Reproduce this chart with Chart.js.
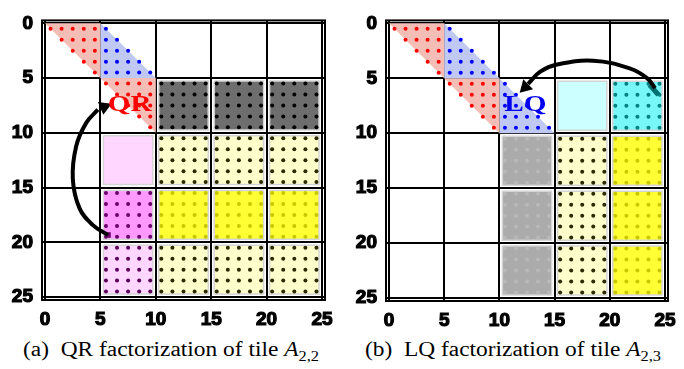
<!DOCTYPE html>
<html>
<head>
<meta charset="utf-8">
<script src="https://cdn.jsdelivr.net/npm/chart.js@4/dist/chart.umd.min.js"></script>
<style>
  body { margin: 0; background: #fff; width: 684px; height: 369px; overflow: hidden; position: relative; }
  canvas { position: absolute; top: 0; }
  .caption {
    position: absolute; top: 339px; width: 342px; text-align: center;
    font-family: "Liberation Serif", "DejaVu Serif", serif; font-size: 20px; line-height: 20px;
    transform: scaleX(1.17); white-space: nowrap;
  }
  .caption sub { font-size: 14px; line-height: 0; }
</style>
</head>
<body>
<canvas id="qrChart" width="342" height="330" style="left:0"></canvas>
<canvas id="lqChart" width="342" height="330" style="left:342px"></canvas>
<div class="caption" style="left:0">(a)&nbsp; QR factorization of tile <i>A</i><sub>2,2</sub></div>
<div class="caption" style="left:342px">(b)&nbsp; LQ factorization of tile <i>A</i><sub>2,3</sub></div>
<script>
// tile grid: 5x5 tiles of 5x5 elements each
const tileSize = 5;
const tickValues = [0, 5, 10, 15, 20, 25];

// tile kinds, row by row (row 0 at top)
const qrTiles = [
  ['redUpper', 'blueLower', '', '', ''],
  ['', 'redUpper', 'dark', 'dark', 'dark'],
  ['', 'pink', 'pale', 'pale', 'pale'],
  ['', 'magenta', 'yellow', 'yellow', 'yellow'],
  ['', 'pinkDots', 'pale', 'pale', 'pale']
];
const lqTiles = [
  ['redUpper', 'blueLower', '', '', ''],
  ['', 'redUpper', 'blueLower', 'lightCyan', 'cyan'],
  ['', '', 'gray', 'pale', 'yellow'],
  ['', '', 'gray', 'pale', 'yellow'],
  ['', '', 'gray', 'pale', 'yellow']
];

// arrow paths (element coordinates)
const qrArrowX = [5.68, 4.32, 3.12, 2.51, 2.82, 3.72, 4.77];
const qrArrowY = [19.33, 18.43, 16.9, 14.2, 11.2, 9.09, 7.88];
const lqArrowX = [24.1, 23.4, 21.8, 18.5, 15.2, 13.7, 12.6];
const lqArrowY = [5.9, 5.0, 4.1, 3.4, 3.75, 4.4, 5.5];

const kinds = {
  redUpper:  { shape: 'upper', fill: '#f4bdb5', dot: '#ff0000' },
  blueLower: { shape: 'lower', fill: '#c0c9f3', dot: '#0000ff' },
  dark:      { shape: 'rect', fill: '#6e6e6e', dot: '#000000' },
  pink:      { shape: 'rect', fill: '#ffd6ff', dot: null },
  magenta:   { shape: 'rect', fill: '#ff99ff', dot: '#6a006a' },
  pinkDots:  { shape: 'rect', fill: '#ffd6ff', dot: '#5a005a' },
  pale:      { shape: 'rect', fill: '#ffffcc', dot: '#2a2a00' },
  yellow:    { shape: 'rect', fill: '#ffff33', dot: '#c8c800' },
  lightCyan: { shape: 'rect', fill: '#ccffff', dot: null },
  cyan:      { shape: 'rect', fill: '#77f7f7', dot: '#008080' },
  gray:      { shape: 'rect', fill: '#ababab', dot: '#b9b9b9' }
};

function tileDatasets(tiles) {
  const sets = [];
  tiles.forEach((row, r) => row.forEach((kind, c) => {
    if (!kind) return;
    const k = kinds[kind];
    const x0 = c * tileSize, y0 = r * tileSize, x1 = x0 + tileSize, y1 = y0 + tileSize;
    let poly, edge = 'rgba(0,0,0,0)';
    if (k.shape === 'upper') {
      poly = [[x0, y0], [x1, y0], [x1, y1], [x0, y0]];
    } else if (k.shape === 'lower') {
      poly = [[x0, y0], [x0, y1], [x1, y1], [x0, y0]];
    } else {
      const g = 0.27;
      poly = [[x0 + g, y0 + g], [x1 - g, y0 + g], [x1 - g, y1 - g], [x0 + g, y1 - g], [x0 + g, y0 + g]];
      edge = '#d4d4d4';
    }
    sets.push({
      data: poly.map(p => ({ x: p[0], y: p[1] })),
      fill: 'shape', backgroundColor: k.fill, borderColor: edge, borderWidth: 1.5,
      pointRadius: 0, tension: 0, order: 3
    });
    if (k.dot) {
      const pts = [];
      for (let i = 0; i < tileSize; i++) {
        for (let j = 0; j < tileSize; j++) {
          if (k.shape === 'upper' && j < i) continue;
          if (k.shape === 'lower' && j > i) continue;
          pts.push({ x: x0 + j + 0.5, y: y0 + i + 0.5 });
        }
      }
      sets.push({
        data: pts, showLine: false, pointRadius: 2, pointBorderWidth: 0,
        pointBackgroundColor: k.dot, order: 2
      });
    }
  }));
  return sets;
}

function arrowDatasets(xs, ys, head, headRot, start) {
  return [
    {
      data: xs.map((x, i) => ({ x: x, y: ys[i] })),
      borderColor: '#000', borderWidth: 4, pointRadius: 0, tension: 0.4, fill: false, order: 1
    },
    {
      data: [head], showLine: false, pointStyle: 'triangle', pointRotation: headRot,
      pointRadius: 8, pointBackgroundColor: '#000', pointBorderWidth: 0, order: 1
    },
    start
  ];
}

const textPlugin = {
  id: 'tileText',
  afterDatasetsDraw(chart, args, opts) {
    const { ctx, scales: { x, y } } = chart;
    ctx.save();
    ctx.font = 'bold 24px "Liberation Serif"';
    ctx.fillStyle = opts.color;
    ctx.textAlign = 'center';
    ctx.textBaseline = 'middle';
    ctx.translate(x.getPixelForValue(opts.x), y.getPixelForValue(opts.y));
    ctx.scale(1.22, 1);
    ctx.fillText(opts.text, 0, 0);
    ctx.restore();
  },
  afterDraw(chart) {
    const { ctx, chartArea: a } = chart;
    ctx.save();
    ctx.strokeStyle = '#000';
    ctx.lineWidth = 2;
    ctx.strokeRect(a.left, a.top, a.right - a.left, a.bottom - a.top);
    ctx.restore();
  }
};

function axis(reverse, fitSize, horizontal) {
  return {
    type: 'linear', min: -0.27, max: 25.27, reverse: reverse,
    afterBuildTicks: s => { s.ticks = tickValues.map(v => ({ value: v })); },
    afterFit: s => { if (horizontal) s.height = fitSize; else s.width = fitSize; },
    grid: { color: '#000', lineWidth: 2, drawTicks: false },
    border: { display: false },
    ticks: {
      color: '#000', padding: horizontal ? 8 : 9,
      textStrokeColor: '#000', textStrokeWidth: 1.2,
      font: { family: '"Liberation Sans", Arial, sans-serif', size: 19, weight: 'bold' }
    }
  };
}

function makeChart(id, tiles, arrows, label, pad, yWidth, xHeight) {
  new Chart(document.getElementById(id), {
    type: 'line',
    data: { datasets: tileDatasets(tiles).concat(arrows) },
    options: {
      responsive: false, animation: false, events: [],
      layout: { padding: pad },
      scales: {
        x: axis(false, xHeight, true),
        y: axis(true, yWidth, false)
      },
      plugins: { legend: { display: false }, tooltip: { enabled: false }, tileText: label }
    },
    plugins: [textPlugin]
  });
}

makeChart('qrChart', qrTiles,
  arrowDatasets(qrArrowX, qrArrowY, { x: 5.35, y: 7.62 }, 67, {
    data: [{ x: qrArrowX[0], y: qrArrowY[0] }], showLine: false, pointStyle: 'rect',
    pointRadius: 4, pointBackgroundColor: '#660066', pointBorderWidth: 0, order: 1
  }),
  { text: 'QR', x: 7.65, y: 7.45, color: '#ff0000' },
  { left: 0, right: 17, top: 17, bottom: 0 }, 42, 30);

makeChart('lqChart', lqTiles,
  arrowDatasets(lqArrowX, lqArrowY, { x: 12.35, y: 5.8 }, 225, {
    data: [{ x: 23.6, y: 5.6 }, { x: 24.4, y: 6.5 }], borderColor: '#007070', borderWidth: 5,
    pointRadius: 0, fill: false, order: 1
  }),
  { text: 'LQ', x: 12.35, y: 7.4, color: '#0000ee' },
  { left: 0, right: 16, top: 19, bottom: 0 }, 44, 29);
</script>
</body>
</html>
